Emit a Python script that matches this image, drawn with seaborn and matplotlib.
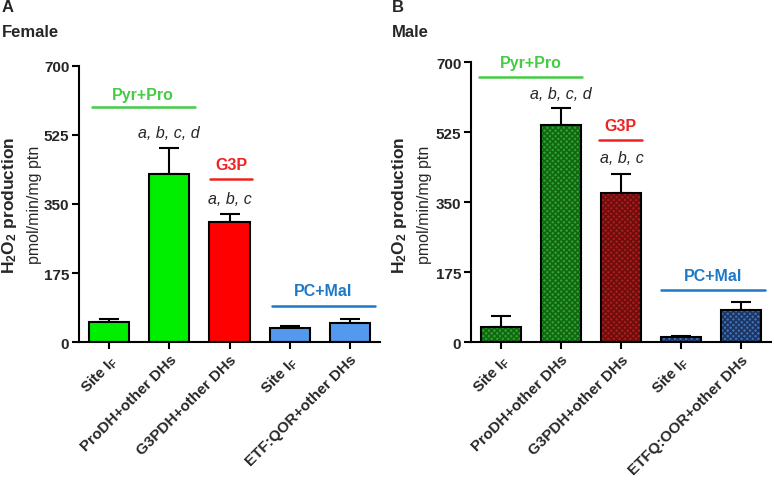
import matplotlib
matplotlib.use("Agg")
import matplotlib.pyplot as plt
import seaborn as sns
from matplotlib.patches import Rectangle

categories_female = ["Site $\\mathbf{I_F}$", "ProDH+other DHs", "G3PDH+other DHs",
                     "Site $\\mathbf{I_F}$ ", "ETF:QOR+other DHs"]
categories_male = ["Site $\\mathbf{I_F}$", "ProDH+other DHs", "G3PDH+other DHs",
                   "Site $\\mathbf{I_F}$ ", "ETFQ:OOR+other DHs"]
female_means = [51, 426, 304, 36, 49]
female_err = [7, 65, 20, 5, 11]
male_means = [39, 543, 373, 13, 81]
male_err = [26, 44, 47, 3, 19]
yticks = [0, 175, 350, 525, 700]

female_colors = ["#00ee00", "#00ee00", "#ff0000", "#5599ee", "#5599ee"]
male_colors = ["#2fa02f", "#2fa02f", "#b01a1a", "#3f70b5", "#3f70b5"]
male_hatch_colors = ["#116611", "#116611", "#6a0e0e", "#1c3560", "#1c3560"]

sns.set_theme(style="ticks")
plt.rcParams["font.family"] = ["Liberation Sans", "DejaVu Sans"]
plt.rcParams["mathtext.fontset"] = "custom"
plt.rcParams["mathtext.rm"] = "Liberation Sans"
plt.rcParams["mathtext.bf"] = "Liberation Sans:bold"
plt.rcParams["mathtext.it"] = "Liberation Sans:italic"
plt.rcParams["hatch.linewidth"] = 1.2

fig = plt.figure(figsize=(7.74, 4.81), dpi=100)
ax_a = fig.add_axes([79 / 774, 1 - 343.3 / 481, 301 / 774, 276.6 / 481])
ax_b = fig.add_axes([471 / 774, 1 - 343.3 / 481, 300 / 774, 280 / 481])


def draw_panel(ax, cats, means, errs, colors, label_x0, hatch_colors=None):
    sns.barplot(x=cats, y=means, hue=cats, palette=colors, legend=False,
                width=0.67, ax=ax, edgecolor="black", linewidth=1.5, saturation=1)
    if hatch_colors is not None:
        for p, hc in zip(ax.patches, hatch_colors):
            p.set_hatch("xxxxxx")
            p.set_edgecolor(hc)
            p.set_linewidth(0)
            ax.add_patch(Rectangle(p.get_xy(), p.get_width(), p.get_height(),
                                   fill=False, edgecolor="black", linewidth=1.5, zorder=3))
    ax.errorbar(range(len(means)), means, yerr=[[0] * len(errs), errs], fmt="none",
                ecolor="black", elinewidth=1.5, capsize=7.5, capthick=1.5, zorder=1)
    for p in ax.patches:
        p.set_zorder(2)
    ax.set_xlim(-0.5, 4.5)
    ax.set_ylim(0, 700)
    ax.set_yticks(yticks)
    ax.set_yticklabels([str(t) for t in yticks], fontweight="bold", fontsize=11)
    ax.set_xticks(range(len(cats)))
    ax.set_xticklabels(cats, rotation=45, ha="right", rotation_mode="anchor",
                       fontweight="bold", fontsize=11)
    ax.tick_params(axis="both", length=5, width=1.5, pad=2, color="black")
    for s in ["left", "bottom"]:
        ax.spines[s].set_linewidth(1.5)
        ax.spines[s].set_color("black")
    for s in ["top", "right"]:
        ax.spines[s].set_visible(False)
    ax.set_ylabel("")
    y_mid = 1 - 205 / 481
    fig.text((label_x0 + 10) / 774, y_mid, "$\\mathbf{H_2O_2}$ production",
             rotation=90, ha="center", va="center", fontsize=12.5, fontweight="bold")
    fig.text((label_x0 + 34) / 774, y_mid, "pmol/min/mg ptn",
             rotation=90, ha="center", va="center", fontsize=11.5)


def group_label(ax, x0, x1, y_line, y_text, text, color):
    ax.plot([x0, x1], [y_line, y_line], color=color, lw=1.8, clip_on=False)
    ax.text((x0 + x1) / 2, y_text, text, color=color, ha="center", va="center",
            fontsize=11.5, fontweight="bold", clip_on=False)


def sig_label(ax, x, y, text):
    ax.text(x, y, text, ha="center", va="center", fontsize=11.5, style="italic")


green_t, red_t, blue_t = "#44cc44", "#ee2222", "#1e78c8"

draw_panel(ax_a, categories_female, female_means, female_err, female_colors, 0)
group_label(ax_a, -0.29, 1.42, 595, 628, "Pyr+Pro", green_t)
sig_label(ax_a, 1.0, 532, "a, b, c, d")
group_label(ax_a, 1.67, 2.38, 413, 451, "G3P", red_t)
sig_label(ax_a, 2.0, 365, "a, b, c")
group_label(ax_a, 2.7, 4.42, 92, 132, "PC+Mal", blue_t)

draw_panel(ax_b, categories_male, male_means, male_err, male_colors, 390, male_hatch_colors)
group_label(ax_b, -0.37, 1.35, 663, 700, "Pyr+Pro", green_t)
sig_label(ax_b, 1.0, 623, "a, b, c, d")
group_label(ax_b, 1.63, 2.35, 506, 543, "G3P", red_t)
sig_label(ax_b, 2.02, 461, "a, b, c")
group_label(ax_b, 2.67, 4.4, 131, 168, "PC+Mal", blue_t)

fig.text(2 / 774, 1 - 8 / 481, "A", fontsize=12, fontweight="bold", va="center")
fig.text(2 / 774, 1 - 33 / 481, "Female", fontsize=12, fontweight="bold", va="center")
fig.text(392 / 774, 1 - 8 / 481, "B", fontsize=12, fontweight="bold", va="center")
fig.text(392 / 774, 1 - 33 / 481, "Male", fontsize=12, fontweight="bold", va="center")

fig.savefig("out.png", dpi=100)
